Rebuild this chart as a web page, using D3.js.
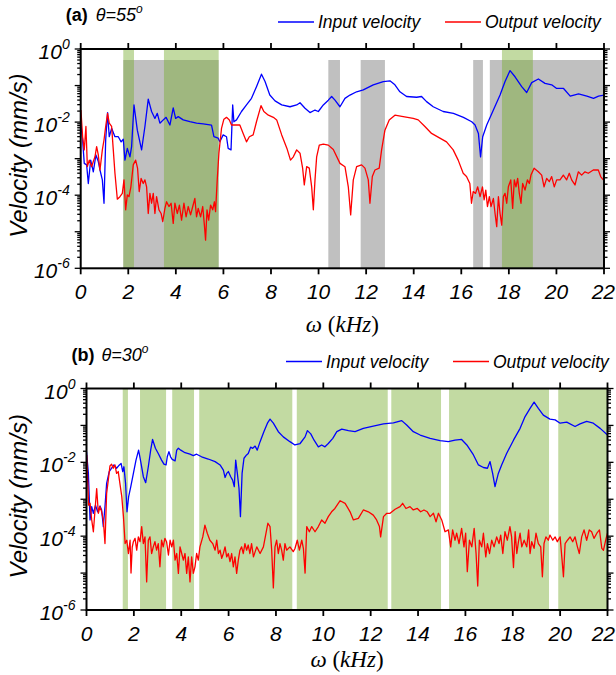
<!DOCTYPE html>
<html>
<head>
<meta charset="utf-8">
<script src="https://cdn.jsdelivr.net/npm/d3@7"></script>
<style>
  body { margin: 0; background: #fff; }
  svg { display: block; }
</style>
</head>
<body>
<svg id="chart" width="616" height="675"></svg>
<script>
// ---- data: [frequency (kHz), log10 of velocity (mm/s)] ----
const freqTicks = [0, 2, 4, 6, 8, 10, 12, 14, 16, 18, 20, 22];
const yTickExponents = [0, -2, -4, -6];

const inputA = [
  [0,-2.0],[0.08,-2.49],[0.15,-3.13],[0.25,-3.17],[0.32,-3.68],[0.42,-3.04],[0.53,-3.36],[0.64,-2.9],
  [0.74,-3.08],[0.81,-3.31],[0.91,-3.58],[0.98,-4.22],[1.05,-2.49],[1.13,-1.74],[1.2,-2.4],[1.3,-2.17],
  [1.44,-2.4],[1.58,-2.4],[1.7,-2.54],[1.79,-2.47],[1.86,-3.04],[1.96,-2.72],[2.07,-2.95],[2.14,-2.67],
  [2.24,-1.53],[2.38,-2.22],[2.56,-2.76],[2.7,-2.12],[2.84,-1.37],[2.98,-1.71],[3.12,-1.9],[3.22,-1.76],
  [3.33,-2.03],[3.47,-1.94],[3.59,-1.87],[3.75,-2.08],[3.89,-1.61],[3.99,-1.9],[4.1,-1.85],[4.31,-1.94],
  [4.59,-1.99],[4.87,-2.03],[5.15,-2.05],[5.5,-2.08],[5.6,-2.4],[5.78,-2.44],[5.85,-2.54],[5.99,-2.35],
  [6.13,-2.4],[6.2,-2.72],[6.32,-2.76],[6.39,-1.53],[6.44,-1.99],[6.55,-1.94],[6.76,-1.71],[6.97,-1.53],
  [7.18,-1.35],[7.39,-1.03],[7.6,-0.69],[7.75,-0.89],[7.95,-1.26],[8.17,-1.42],[8.45,-1.53],[8.8,-1.58],
  [9.08,-1.53],[9.22,-1.47],[9.43,-1.62],[9.64,-1.74],[9.85,-1.67],[9.99,-1.71],[10.2,-1.53],[10.41,-1.4],
  [10.55,-1.3],[10.69,-1.4],[10.9,-1.58],[11.11,-1.35],[11.32,-1.26],[11.6,-1.17],[11.88,-1.12],[12.3,-0.98],
  [12.72,-0.89],[13.0,-0.87],[13.21,-0.98],[13.42,-1.17],[13.7,-1.3],[14.12,-1.32],[14.33,-1.3],[14.54,-1.44],
  [14.82,-1.58],[15.24,-1.71],[15.67,-1.76],[16.09,-1.87],[16.44,-1.99],[16.58,-2.08],[16.72,-2.31],[16.81,-2.95],
  [16.9,-2.4],[17.07,-2.08],[17.35,-1.67],[17.63,-1.26],[17.84,-0.89],[18.05,-0.59],[18.26,-0.76],[18.54,-1.03],
  [18.75,-1.19],[18.96,-0.92],[19.24,-0.82],[19.52,-0.94],[19.8,-0.98],[20.01,-1.08],[20.3,-1.08],[20.58,-1.29],
  [20.93,-1.23],[21.28,-1.29],[21.56,-1.35],[21.77,-1.29],[22.0,-1.26]
];

const outputA = [
  [0.01,-1.67],[0.08,-2.4],[0.15,-2.76],[0.22,-2.12],[0.28,-3.22],[0.36,-3.04],[0.46,-3.22],[0.53,-3.08],
  [0.6,-2.95],[0.67,-2.67],[0.74,-2.9],[0.81,-3.31],[0.91,-2.76],[0.98,-2.49],[1.05,-2.12],[1.13,-1.76],
  [1.2,-2.03],[1.3,-2.12],[1.37,-2.76],[1.44,-3.4],[1.54,-4.11],[1.65,-4.04],[1.75,-3.95],[1.82,-3.58],
  [1.89,-4.4],[1.96,-3.99],[2.03,-4.04],[2.11,-3.77],[2.21,-3.17],[2.31,-3.04],[2.39,-3.26],[2.46,-3.9],
  [2.54,-3.54],[2.63,-3.68],[2.7,-3.58],[2.77,-3.77],[2.84,-4.5],[2.91,-3.95],[2.98,-4.22],[3.05,-3.95],
  [3.12,-4.5],[3.19,-4.04],[3.29,-4.4],[3.38,-4.5],[3.45,-4.72],[3.54,-4.36],[3.61,-4.18],[3.71,-4.31],
  [3.8,-4.22],[3.89,-4.77],[3.96,-4.22],[4.06,-4.5],[4.15,-4.27],[4.24,-4.68],[4.34,-4.22],[4.43,-4.59],
  [4.52,-4.31],[4.62,-4.54],[4.71,-4.31],[4.8,-4.09],[4.87,-4.59],[4.94,-4.36],[5.04,-4.59],[5.13,-4.31],
  [5.2,-4.82],[5.25,-5.23],[5.31,-4.4],[5.38,-4.68],[5.46,-4.27],[5.55,-4.4],[5.62,-4.18],[5.67,-4.45],
  [5.74,-3.58],[5.81,-2.85],[5.92,-2.17],[6.02,-1.92],[6.13,-1.87],[6.25,-1.94],[6.34,-2.08],[6.48,-2.08],
  [6.69,-2.08],[6.83,-2.31],[6.97,-2.54],[7.09,-2.4],[7.25,-2.35],[7.39,-1.99],[7.58,-1.55],[7.7,-1.71],
  [7.89,-1.81],[8.1,-1.87],[8.24,-1.94],[8.45,-2.35],[8.67,-2.72],[8.82,-3.04],[8.94,-2.95],[9.08,-2.76],
  [9.22,-2.85],[9.33,-3.26],[9.4,-3.72],[9.5,-3.22],[9.61,-3.26],[9.71,-3.77],[9.78,-4.4],[9.85,-3.58],
  [9.92,-2.95],[10.03,-2.63],[10.2,-2.6],[10.41,-2.63],[10.62,-2.75],[10.9,-3.13],[11.11,-3.22],[11.25,-3.77],
  [11.35,-4.54],[11.46,-3.58],[11.6,-3.22],[11.81,-3.17],[11.95,-3.26],[12.09,-3.58],[12.16,-4.22],[12.26,-3.49],
  [12.37,-3.31],[12.55,-3.26],[12.65,-2.76],[12.79,-2.22],[12.97,-1.94],[13.21,-1.81],[13.56,-1.85],[13.98,-1.9],
  [14.19,-1.94],[14.47,-2.12],[14.75,-2.31],[15.1,-2.44],[15.38,-2.54],[15.66,-2.76],[15.87,-3.04],[16.08,-3.4],
  [16.22,-3.49],[16.36,-3.68],[16.43,-4.22],[16.5,-3.9],[16.6,-3.95],[16.69,-3.77],[16.79,-4.04],[16.89,-3.77],
  [16.96,-4.13],[17.03,-3.86],[17.1,-4.31],[17.18,-4.04],[17.25,-4.31],[17.35,-4.09],[17.42,-4.5],[17.49,-4.86],
  [17.56,-4.04],[17.63,-4.5],[17.7,-4.82],[17.77,-4.04],[17.84,-3.95],[17.91,-4.22],[17.98,-3.77],[18.08,-3.58],
  [18.16,-4.36],[18.23,-3.58],[18.3,-3.77],[18.37,-3.54],[18.44,-3.95],[18.51,-4.22],[18.58,-3.68],[18.68,-3.86],
  [18.78,-3.58],[18.86,-3.68],[18.93,-3.45],[19.06,-3.26],[19.24,-3.36],[19.38,-3.45],[19.48,-3.77],[19.59,-3.54],
  [19.7,-3.63],[19.8,-3.49],[19.91,-3.77],[20.01,-3.58],[20.15,-3.58],[20.29,-3.45],[20.43,-3.58],[20.54,-3.4],
  [20.64,-3.58],[20.78,-3.72],[20.92,-3.36],[21.06,-3.45],[21.2,-3.36],[21.34,-3.4],[21.55,-3.31],[21.76,-3.31],
  [21.86,-3.49],[21.97,-3.58]
];

const inputB = [
  [0,-1.71],[0.08,-2.3],[0.15,-3.56],[0.22,-3.2],[0.29,-3.38],[0.38,-3.16],[0.47,-3.34],[0.57,-3.18],
  [0.64,-3.29],[0.71,-3.74],[0.78,-3.2],[0.85,-2.57],[0.96,-2.25],[1.06,-2.16],[1.16,-2.07],[1.27,-2.16],
  [1.39,-2.07],[1.46,-2.03],[1.53,-2.25],[1.58,-2.12],[1.65,-2.57],[1.71,-3.34],[1.78,-2.93],[1.87,-2.66],
  [1.98,-2.3],[2.09,-1.94],[2.2,-1.67],[2.29,-1.98],[2.4,-2.39],[2.5,-2.55],[2.61,-2.12],[2.71,-1.67],
  [2.79,-1.38],[2.91,-1.62],[3.03,-1.76],[3.17,-1.94],[3.27,-2.05],[3.36,-2.07],[3.41,-1.85],[3.48,-1.71],
  [3.55,-1.85],[3.62,-1.92],[3.74,-1.96],[3.81,-1.67],[3.88,-1.62],[3.98,-1.67],[4.16,-1.74],[4.37,-1.78],
  [4.51,-1.82],[4.65,-1.78],[4.86,-1.85],[5.14,-1.91],[5.43,-1.98],[5.64,-2.07],[5.78,-2.21],[5.85,-2.41],
  [5.92,-2.3],[5.99,-2.25],[6.09,-2.39],[6.17,-2.48],[6.24,-2.66],[6.3,-1.94],[6.37,-2.3],[6.44,-2.71],
  [6.5,-3.47],[6.57,-2.3],[6.65,-1.89],[6.76,-1.8],[6.83,-1.76],[6.93,-1.59],[7.02,-1.62],[7.12,-1.56],
  [7.21,-1.67],[7.33,-1.44],[7.49,-1.17],[7.64,-0.94],[7.75,-0.83],[7.89,-0.94],[8.1,-1.17],[8.31,-1.31],
  [8.59,-1.44],[8.8,-1.53],[9.02,-1.49],[9.23,-1.31],[9.33,-1.14],[9.47,-1.23],[9.61,-1.4],[9.79,-1.58],
  [9.93,-1.53],[10.07,-1.58],[10.21,-1.49],[10.4,-1.35],[10.57,-1.17],[10.78,-1.1],[11.06,-1.14],[11.34,-1.17],
  [11.69,-1.08],[12.11,-1.02],[12.54,-0.96],[12.96,-0.93],[13.31,-0.87],[13.52,-0.99],[13.8,-1.17],[14.09,-1.26],
  [14.51,-1.35],[14.93,-1.41],[15.28,-1.44],[15.56,-1.4],[15.84,-1.38],[16.06,-1.53],[16.34,-1.8],[16.55,-2.07],
  [16.76,-2.14],[16.93,-2.16],[17.04,-1.98],[17.15,-2.3],[17.25,-2.66],[17.39,-2.3],[17.53,-2.07],[17.74,-1.76],
  [18.03,-1.4],[18.31,-1.08],[18.52,-0.76],[18.73,-0.54],[18.9,-0.37],[19.08,-0.54],[19.29,-0.72],[19.57,-0.83],
  [19.79,-0.85],[20.0,-0.94],[20.28,-0.91],[20.63,-1.03],[20.84,-0.96],[21.12,-0.89],[21.4,-0.94],[21.69,-1.08],
  [22.0,-1.26]
];

const outputB = [
  [0.01,-1.8],[0.05,-2.48],[0.09,-3.16],[0.15,-3.11],[0.22,-3.56],[0.29,-3.88],[0.36,-3.29],[0.43,-2.71],
  [0.5,-3.38],[0.57,-3.2],[0.64,-3.34],[0.71,-3.56],[0.78,-4.2],[0.85,-2.84],[0.92,-2.48],[0.99,-2.1],
  [1.06,-2.05],[1.13,-2.16],[1.2,-2.07],[1.27,-2.3],[1.34,-2.25],[1.41,-2.57],[1.49,-2.93],[1.56,-3.47],
  [1.63,-4.2],[1.7,-4.11],[1.77,-4.47],[1.84,-4.11],[1.88,-5.0],[1.93,-4.3],[1.98,-4.15],[2.05,-4.06],
  [2.12,-4.38],[2.19,-4.02],[2.26,-4.15],[2.33,-3.74],[2.4,-4.2],[2.47,-4.02],[2.54,-5.24],[2.61,-4.11],
  [2.68,-4.02],[2.75,-4.47],[2.82,-4.29],[2.89,-4.15],[2.96,-4.38],[3.03,-4.2],[3.1,-4.83],[3.17,-4.11],
  [3.24,-4.29],[3.31,-4.06],[3.38,-4.15],[3.46,-4.51],[3.53,-4.11],[3.6,-4.29],[3.67,-4.11],[3.74,-4.65],
  [3.81,-4.47],[3.88,-5.01],[3.95,-4.29],[4.02,-4.47],[4.09,-4.65],[4.16,-4.47],[4.23,-5.01],[4.3,-4.56],
  [4.37,-5.24],[4.44,-4.56],[4.51,-5.01],[4.58,-4.83],[4.65,-4.47],[4.72,-4.65],[4.79,-4.29],[4.91,-4.02],
  [5.0,-3.7],[5.1,-3.92],[5.21,-4.11],[5.33,-4.2],[5.43,-4.38],[5.5,-4.11],[5.57,-4.47],[5.64,-4.38],
  [5.71,-4.6],[5.78,-4.47],[5.85,-4.29],[5.92,-4.56],[5.99,-4.47],[6.06,-4.69],[6.13,-4.47],[6.2,-4.83],
  [6.27,-4.56],[6.34,-5.01],[6.41,-4.65],[6.48,-4.38],[6.55,-4.29],[6.62,-4.47],[6.69,-4.2],[6.76,-4.38],
  [6.83,-4.24],[6.9,-4.47],[6.97,-4.2],[7.05,-4.56],[7.19,-4.29],[7.33,-4.47],[7.47,-4.29],[7.58,-3.92],
  [7.66,-3.65],[7.75,-3.74],[7.82,-4.38],[7.89,-5.4],[7.96,-4.29],[8.03,-4.11],[8.1,-4.47],[8.17,-4.2],
  [8.24,-4.38],[8.31,-4.65],[8.38,-4.2],[8.45,-4.38],[8.59,-4.29],[8.73,-4.42],[8.8,-4.34],[8.9,-4.11],
  [8.99,-4.38],[9.09,-4.11],[9.16,-4.34],[9.23,-5.0],[9.3,-3.74],[9.41,-3.88],[9.51,-3.74],[9.65,-3.88],
  [9.79,-3.74],[9.93,-3.56],[10.07,-3.65],[10.21,-3.47],[10.35,-3.34],[10.49,-3.25],[10.71,-3.04],[10.92,-3.11],
  [11.13,-3.34],[11.27,-3.56],[11.48,-3.52],[11.69,-3.29],[11.9,-3.34],[12.11,-3.43],[12.25,-3.56],[12.37,-3.74],
  [12.42,-4.02],[12.54,-3.47],[12.68,-3.38],[12.82,-3.38],[13.03,-3.27],[13.24,-3.2],[13.35,-3.11],[13.49,-3.25],
  [13.66,-3.2],[13.8,-3.29],[13.97,-3.25],[14.11,-3.34],[14.25,-3.29],[14.39,-3.34],[14.51,-3.47],[14.65,-3.38],
  [14.76,-3.61],[14.86,-3.38],[15.0,-3.56],[15.14,-3.88],[15.28,-3.83],[15.38,-4.29],[15.46,-3.83],[15.56,-4.11],
  [15.63,-3.92],[15.73,-4.2],[15.84,-3.79],[15.94,-4.29],[16.01,-3.92],[16.08,-4.96],[16.17,-4.11],[16.27,-4.29],
  [16.37,-3.79],[16.45,-4.47],[16.52,-5.35],[16.59,-4.11],[16.69,-4.29],[16.76,-3.92],[16.86,-4.56],[16.93,-4.2],
  [17.02,-4.47],[17.11,-4.11],[17.21,-4.29],[17.32,-4.02],[17.42,-4.2],[17.49,-3.97],[17.58,-4.47],[17.67,-3.88],
  [17.77,-4.11],[17.88,-3.74],[17.95,-4.02],[18.03,-4.85],[18.1,-3.88],[18.17,-4.47],[18.24,-4.15],[18.31,-3.92],
  [18.38,-4.29],[18.48,-4.11],[18.59,-4.29],[18.67,-3.83],[18.73,-4.47],[18.8,-4.15],[18.9,-4.33],[18.98,-3.92],
  [19.08,-4.2],[19.18,-4.29],[19.25,-5.1],[19.32,-4.2],[19.4,-4.02],[19.5,-4.11],[19.57,-3.97],[19.69,-4.11],
  [19.79,-4.02],[19.88,-4.15],[20.0,-4.02],[20.14,-5.1],[20.21,-4.2],[20.31,-4.11],[20.42,-4.02],[20.53,-4.15],
  [20.63,-4.02],[20.73,-4.29],[20.81,-4.47],[20.91,-4.02],[21.01,-3.83],[21.12,-4.11],[21.23,-3.83],[21.33,-3.88],
  [21.43,-4.06],[21.55,-3.92],[21.66,-3.83],[21.76,-4.33],[21.83,-4.38],[21.94,-4.06],[22.0,-3.92]
];

// shaded frequency bands (kHz)
const grayBandsA = [[1.79, 5.8], [10.41, 10.9], [11.77, 12.79], [16.5, 16.91], [17.2, 22]];
const greenBandsA = [[1.79, 2.24], [3.5, 5.8], [17.71, 19.01]];
const greenBandsB = [[1.53, 1.75], [2.26, 3.36], [3.62, 4.54], [4.76, 8.69], [8.88, 12.72],
                     [12.87, 14.97], [15.31, 19.53], [19.92, 22]];
const grayBandTop = 0.5; // mm/s

// ---- layout ----
const W = 616;
const svg = d3.select("#chart");
const SANS = "'Liberation Sans', Arial, Helvetica, sans-serif";
const SERIF = "'Liberation Serif', 'DejaVu Serif', 'Times New Roman', serif";
const BLUE = "#0000ff", RED = "#ff0000";
const GREEN_FILL = "rgb(119,172,48)", GREEN_OPACITY = 0.45, GRAY_FILL = "#c0c0c0";

const panels = [
  { key: "a", tag: "(a)", angle: "55", left: 80.7, right: 604, top: 49, bottom: 268.3, xlabelGap: 64,
    input: inputA, output: outputA, gray: grayBandsA, green: greenBandsA, legendX: [278, 445] },
  { key: "b", tag: "(b)", angle: "30", left: 86.5, right: 607.5, top: 388.5, bottom: 610, xlabelGap: 57,
    input: inputB, output: outputB, gray: [], green: greenBandsB, legendX: [286, 453] }
];

panels.forEach(p => {
  const x = d3.scaleLinear().domain([0, 22]).range([p.left, p.right]);
  const y = d3.scaleLog().domain([1e-6, 1]).range([p.bottom, p.top]);
  const g = svg.append("g").attr("class", "panel-" + p.key);

  const clipId = "clip-" + p.key;
  svg.append("clipPath").attr("id", clipId)
    .append("rect").attr("x", p.left).attr("y", p.top)
    .attr("width", p.right - p.left).attr("height", p.bottom - p.top);

  // gray bands
  g.selectAll("rect.gray").data(p.gray).join("rect").attr("class", "gray")
    .attr("x", d => x(d[0])).attr("width", d => x(d[1]) - x(d[0]))
    .attr("y", y(grayBandTop)).attr("height", y(1e-6) - y(grayBandTop))
    .attr("fill", GRAY_FILL);

  // green bands
  g.selectAll("rect.green").data(p.green).join("rect").attr("class", "green")
    .attr("x", d => x(d[0])).attr("width", d => x(d[1]) - x(d[0]))
    .attr("y", y(1)).attr("height", y(1e-6) - y(1))
    .attr("fill", GREEN_FILL).attr("fill-opacity", GREEN_OPACITY);

  // velocity curves
  const line = d3.line().x(d => x(d[0])).y(d => y(Math.pow(10, d[1])));
  const lines = g.append("g").attr("clip-path", `url(#${clipId})`);
  lines.append("path").datum(p.input).attr("d", line)
    .attr("fill", "none").attr("stroke", BLUE).attr("stroke-width", 1.3).attr("stroke-linejoin", "round");
  lines.append("path").datum(p.output).attr("d", line)
    .attr("fill", "none").attr("stroke", RED).attr("stroke-width", 1.3).attr("stroke-linejoin", "round");

  // axes box
  const ax = g.append("g");
  ax.append("rect").attr("x", p.left).attr("y", p.top)
    .attr("width", p.right - p.left).attr("height", p.bottom - p.top)
    .attr("fill", "none").attr("stroke", "#000").attr("stroke-width", 2);

  // x ticks (outward, top and bottom)
  freqTicks.forEach(t => {
    ax.append("line").attr("x1", x(t)).attr("x2", x(t)).attr("y1", p.bottom).attr("y2", p.bottom + 6)
      .attr("stroke", "#000").attr("stroke-width", 1.8);
    ax.append("line").attr("x1", x(t)).attr("x2", x(t)).attr("y1", p.top).attr("y2", p.top - 6)
      .attr("stroke", "#000").attr("stroke-width", 1.8);
    const lbl = ax.append("text").attr("x", x(t)).attr("y", p.bottom + 31)
      .attr("text-anchor", "middle").attr("font-family", SANS).attr("font-style", "italic")
      .attr("font-size", 21).text(t);
    // keep the last label inside the page
    const bb = lbl.node().getBBox();
    if (bb.x + bb.width > W - 1) lbl.attr("text-anchor", "end").attr("x", W - 1);
  });

  // y ticks (log, outward on left and right)
  y.ticks().forEach(v => {
    const e = Math.log10(v);
    const major = Math.abs(e - Math.round(e)) < 1e-9;
    const len = major ? 6 : 3.5;
    ax.append("line").attr("x1", p.left).attr("x2", p.left - len).attr("y1", y(v)).attr("y2", y(v))
      .attr("stroke", "#000").attr("stroke-width", 1.3);
    ax.append("line").attr("x1", p.right).attr("x2", p.right + len).attr("y1", y(v)).attr("y2", y(v))
      .attr("stroke", "#000").attr("stroke-width", 1.3);
  });
  yTickExponents.forEach(e => {
    const t = ax.append("text").attr("x", p.left - 11).attr("y", y(Math.pow(10, e)) + 10)
      .attr("text-anchor", "end").attr("font-family", SANS).attr("font-style", "italic")
      .attr("font-size", 21);
    t.append("tspan").text("10");
    t.append("tspan").attr("font-size", 14).attr("dy", -10).text(String(e));
  });

  // y axis label
  ax.append("text")
    .attr("transform", `translate(27,${(p.top + p.bottom) / 2 - 3}) rotate(-90)`)
    .attr("text-anchor", "middle").attr("font-family", SANS).attr("font-style", "italic")
    .attr("font-size", 24).text("Velocity (mm/s)");

  // x axis label
  const xl = ax.append("text").attr("x", (p.left + p.right) / 2).attr("y", p.bottom + p.xlabelGap)
    .attr("text-anchor", "middle").attr("font-family", SERIF).attr("font-size", 23);
  xl.append("tspan").attr("font-style", "italic").text("ω");
  xl.append("tspan").text(" (");
  xl.append("tspan").attr("font-style", "italic").text("kHz");
  xl.append("tspan").text(")");

  // panel title
  ax.append("text").attr("x", p.left - 15).attr("y", p.top - 28)
    .attr("font-family", SANS).attr("font-weight", "bold").attr("font-size", 18).text(p.tag);
  const th = ax.append("text").attr("x", p.left + 15).attr("y", p.top - 28)
    .attr("font-family", SANS).attr("font-style", "italic").attr("font-size", 18);
  th.append("tspan").text("θ=" + p.angle);
  th.append("tspan").attr("font-size", 12).attr("dy", -8).text("o");

  // legend
  const legendItems = [["Input velocity", BLUE], ["Output velocity", RED]];
  legendItems.forEach((it, i) => {
    const lx = p.legendX[i];
    ax.append("line").attr("x1", lx).attr("x2", lx + 36).attr("y1", p.top - 27).attr("y2", p.top - 27)
      .attr("stroke", it[1]).attr("stroke-width", 1.3);
    ax.append("text").attr("x", lx + 40).attr("y", p.top - 21)
      .attr("font-family", SANS).attr("font-style", "italic").attr("font-size", 17.5).text(it[0]);
  });
});
</script>
</body>
</html>
